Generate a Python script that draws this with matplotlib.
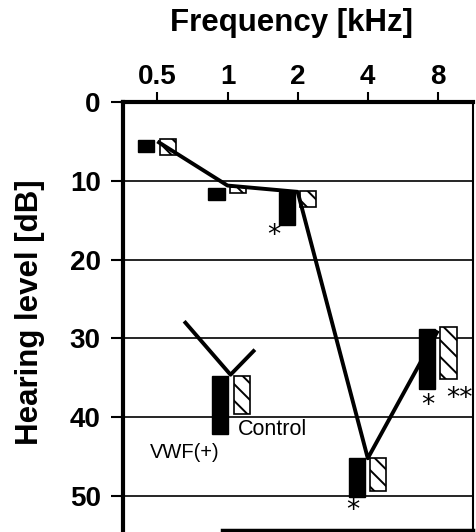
import numpy as np
import matplotlib
matplotlib.use('Agg')
import matplotlib.pyplot as plt

plt.rcParams['font.family'] = ['Liberation Sans', 'DejaVu Sans']
plt.rcParams['hatch.linewidth'] = 1.4

# ---- data ----
freqs = [0.5, 1, 2, 4, 8]
freq_labels = ['0.5', '1', '2', '4', '8']
yticks = [0, 10, 20, 30, 40, 50]
# VWF(+) bars (range, dB)
vwf_low = [4.8, 10.9, 11.4, 45.2, 28.8]
vwf_high = [6.3, 12.4, 15.6, 50.1, 36.4]
# Control bars (range, dB)
ctrl_low = [4.7, 10.8, 11.3, 45.2, 28.6]
ctrl_high = [6.7, 11.5, 13.3, 49.4, 35.2]
# connecting line
line_vals = [5.0, 10.6, 11.4, 45.2, 29.0]
# significance marks: (freq, octave offset, dB, text)
sig_freqs = [2, 4, 8, 8]
sig_offsets = [-0.34, -0.21, -0.14, 0.31]
sig_levels = [16.5, 51.4, 38.1, 37.2]
sig_texts = ['*', '*', '*', '**']

# ---- figure ----
W, H = 476, 532
fig = plt.figure(figsize=(W / 100, H / 100), dpi=100)
ax = fig.add_axes([123 / W, 2 / H, 350 / W, 428 / H])

xpos = np.log2(freqs)
bar_w = 0.23
ax.bar(xpos - 0.157, np.array(vwf_high) - np.array(vwf_low), bottom=vwf_low,
       width=bar_w, color='black', edgecolor='black', linewidth=1, zorder=3)
ax.bar(xpos + 0.15, np.array(ctrl_high) - np.array(ctrl_low), bottom=ctrl_low,
       width=bar_w, color='white', edgecolor='black', linewidth=1.2,
       hatch='\\\\', zorder=3)
ax.plot(xpos, line_vals, color='black', lw=2.8, zorder=4, solid_capstyle='butt')

for f, off, lv, t in zip(sig_freqs, sig_offsets, sig_levels, sig_texts):
    ax.text(np.log2(f) + off, lv + 0.5, t, ha='center', va='center', fontsize=19,
            family='DejaVu Sans', zorder=5)

# ---- legend (custom) ----
ax.bar([-0.107], [42.1 - 34.8], bottom=[34.8], width=bar_w, color='black',
       edgecolor='black', linewidth=1, zorder=3)
ax.bar([0.207], [39.6 - 34.8], bottom=[34.8], width=bar_w, color='white',
       edgecolor='black', linewidth=1.2, hatch='\\\\', zorder=3)
ax.plot([-0.6, 0.043, 0.371], [28.0, 34.6, 31.6], color='black', lw=2.8, zorder=4)
ax.text(0.143, 41.6, 'Control', ha='left', va='center', fontsize=15.5)
ax.text(-1.1, 44.5, 'VWF(+)', ha='left', va='center', fontsize=14.5)

# ---- axes ----
ax.set_xlim(np.log2(0.5) - 0.49, np.log2(8) + 0.5)
ax.set_ylim(54.3, 0)
ax.xaxis.tick_top()
ax.set_xticks(xpos)
ax.set_xticklabels(freq_labels, fontsize=20, fontweight='bold')
ax.set_yticks(yticks)
ax.set_yticklabels([str(v) for v in yticks], fontsize=20, fontweight='bold')
ax.tick_params(axis='x', direction='out', length=7, width=1.5, pad=2)
ax.tick_params(axis='y', direction='out', length=9, width=1.5, pad=7)
ax.yaxis.grid(True, color='black', lw=1.2)
ax.set_axisbelow(True)
ax.spines['top'].set_linewidth(3)
ax.spines['left'].set_linewidth(3)
ax.spines['right'].set_linewidth(1.5)
ax.spines['bottom'].set_linewidth(2.5)
ax.spines['bottom'].set_bounds(np.log2(0.95), np.log2(8) + 0.5)

fig.text(292 / W, 1 - 23 / H, 'Frequency [kHz]', ha='center', va='center',
         fontsize=22.5, fontweight='bold')
fig.text(30 / W, 1 - 312 / H, 'Hearing level [dB]', ha='center', va='center',
         fontsize=22.5, fontweight='bold', rotation=90)

fig.savefig('out.png', dpi=100)
